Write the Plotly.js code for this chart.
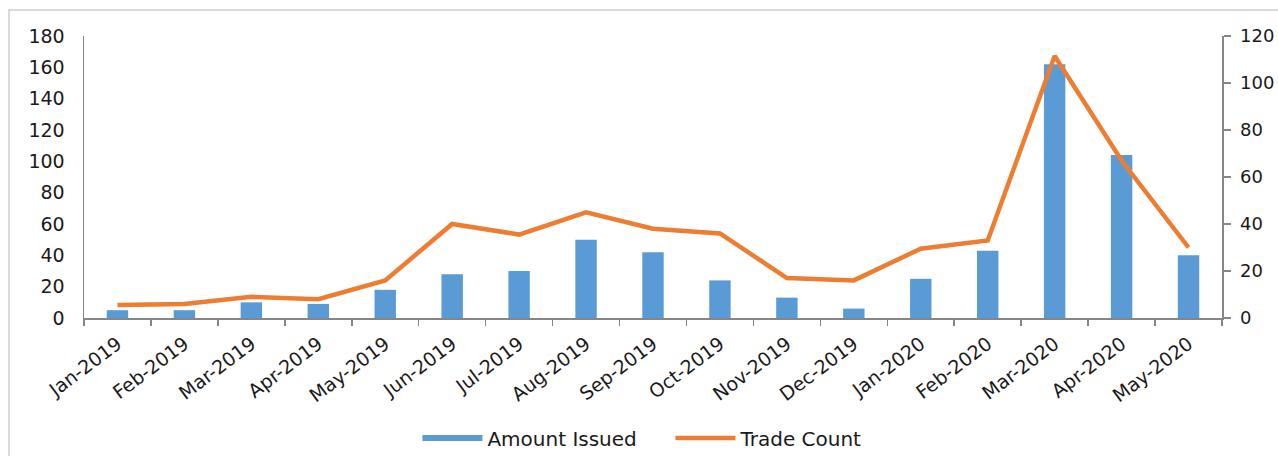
<!DOCTYPE html>
<html>
<head>
<meta charset="utf-8">
<script src="https://cdn.plot.ly/plotly-3.0.1.min.js"></script>
<style>
  html, body { margin: 0; padding: 0; background: #fff; }
  #chart { width: 1278px; height: 456px; }
</style>
</head>
<body>
<div id="chart"></div>
<script>
const months = ["Jan-2019","Feb-2019","Mar-2019","Apr-2019","May-2019","Jun-2019","Jul-2019","Aug-2019","Sep-2019","Oct-2019","Nov-2019","Dec-2019","Jan-2020","Feb-2020","Mar-2020","Apr-2020","May-2020"];
const amountIssued = [5, 5, 10, 9, 18, 28, 30, 50, 42, 24, 13, 6, 25, 43, 162, 104, 40];
const tradeCount = [5.5, 6, 9, 8, 16, 40, 35.5, 45, 38, 36, 17, 16, 29.5, 33, 111.5, 67, 30];

const blue = "#5B9BD5";
const orange = "#ED7D31";
const axisGray = "#868686";
const fam = "DejaVu Sans, Arial, sans-serif";
const yTickFont = {family: fam, size: 19, color: "#1a1a1a"};
const y2TickFont = {family: fam, size: 18, color: "#1a1a1a"};
const xTickFont = {family: fam, size: 19, color: "#1a1a1a"};

const traces = [
  {
    type: "bar", x: months, y: amountIssued, name: "Amount Issued",
    marker: {color: blue}, width: 0.32, showlegend: false, yaxis: "y"
  },
  {
    type: "scatter", mode: "lines", x: months, y: tradeCount, name: "Trade Count",
    line: {color: orange, width: 4.5}, yaxis: "y2", showlegend: false
  },
  {
    type: "scatter", mode: "lines", x: [null], y: [null], name: "Amount Issued",
    line: {color: blue, width: 6}, yaxis: "y", showlegend: true, hoverinfo: "skip"
  },
  {
    type: "scatter", mode: "lines", x: [null], y: [null], name: "Trade Count",
    line: {color: orange, width: 4.5}, yaxis: "y2", showlegend: true, hoverinfo: "skip"
  }
];

const layout = {
  width: 1278, height: 456,
  margin: {l: 84, r: 56, t: 36, b: 138, autoexpand: false},
  paper_bgcolor: "#fff", plot_bgcolor: "#fff",
  font: yTickFont,
  xaxis: {
    type: "category", categoryorder: "array", categoryarray: months,
    range: [-0.5, 16.5], automargin: false,
    showgrid: false, zeroline: false,
    showline: true, linecolor: axisGray, linewidth: 1.5,
    ticks: "outside", ticklen: 6, tickcolor: axisGray, tickwidth: 1.5,
    tickson: "boundaries", ticklabelstandoff: 6,
    tickangle: -37, tickfont: xTickFont
  },
  yaxis: {
    range: [0, 180], dtick: 20, tick0: 0, automargin: false,
    showgrid: false, zeroline: false,
    showline: true, linecolor: axisGray, linewidth: 1.5,
    ticks: "", ticklabelstandoff: 14, tickfont: yTickFont
  },
  yaxis2: {
    overlaying: "y", side: "right", automargin: false,
    range: [0, 120], dtick: 20, tick0: 0,
    showgrid: false, zeroline: false,
    showline: true, linecolor: axisGray, linewidth: 1.5,
    ticks: "outside", ticklen: 7, tickcolor: axisGray, tickwidth: 1.5,
    ticklabelstandoff: 6, tickfont: y2TickFont
  },
  legend: {
    orientation: "h", x: 0.293, xanchor: "left", y: -0.4255, yanchor: "middle",
    font: {family: fam, size: 20, color: "#1a1a1a"},
    itemwidth: 60, entrywidth: 178, traceorder: "normal", bgcolor: "rgba(0,0,0,0)"
  },
  shapes: [{
    type: "rect", xref: "paper", yref: "paper",
    x0: -0.0659, x1: 1.2, y0: -0.6, y1: 1.0922,
    line: {color: "#cfcfcf", width: 1.5}, fillcolor: "rgba(0,0,0,0)", layer: "below"
  }],
  showlegend: true
};

Plotly.newPlot("chart", traces, layout, {displayModeBar: false, staticPlot: true});
</script>
</body>
</html>
